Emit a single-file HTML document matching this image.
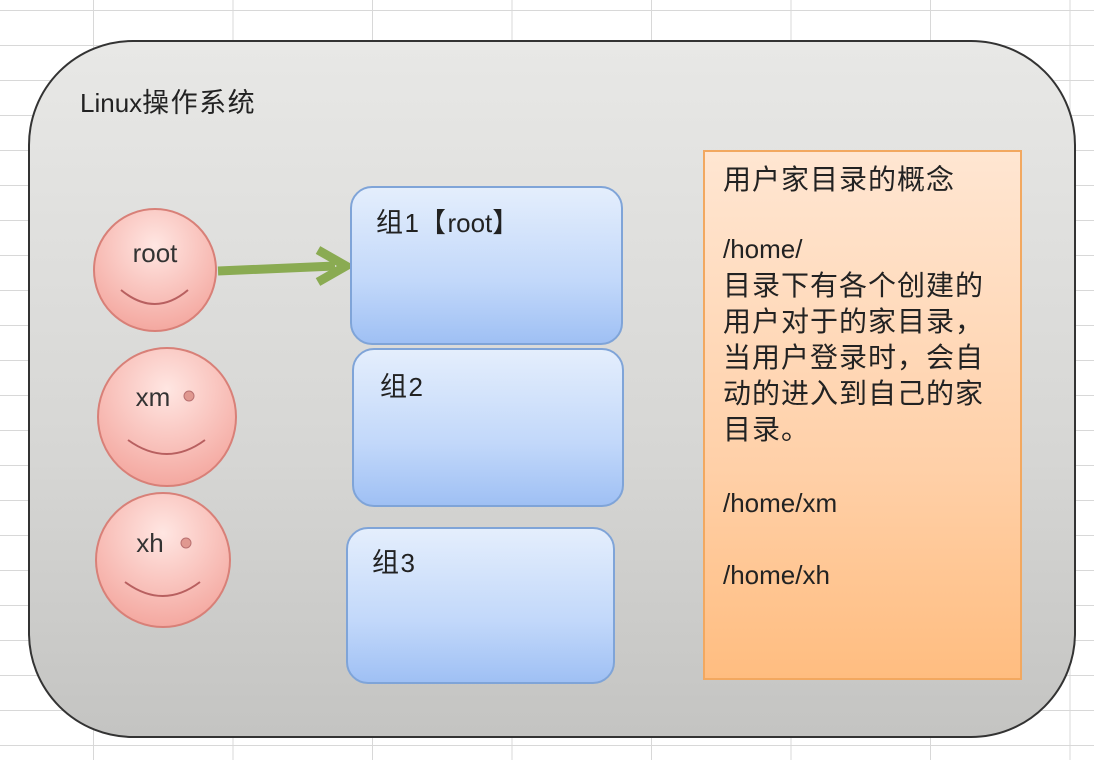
<!DOCTYPE html>
<html><head><meta charset="utf-8"><style>
body{margin:0;width:1094px;height:760px;overflow:hidden;position:relative;font-family:"Liberation Sans","Noto Sans CJK SC",sans-serif;color:#222;
background-color:#fff;
background-image:linear-gradient(to right,#d8d8d8 1px,transparent 1px),linear-gradient(to bottom,#d8d8d8 1px,transparent 1px);
background-size:139.5px 35px;background-position:93px 10px;}
.main{position:absolute;left:28px;top:40px;width:1048px;height:698px;border:2px solid #333;border-radius:105px;box-sizing:border-box;background:linear-gradient(#e8e8e6,#d6d6d4 60%,#c4c4c2);}
.t{position:absolute;font-size:26px;white-space:nowrap;line-height:30px}
.c{font-size:27px;letter-spacing:1.5px}
.blue{position:absolute;border:2px solid #7fa4d8;border-radius:22px;box-sizing:border-box;background:linear-gradient(#e4eefc,#c2d8fa 60%,#9fc0f4);}
.org{position:absolute;left:703px;top:150px;width:319px;height:530px;box-sizing:border-box;border:2px solid #f2a860;background:linear-gradient(#ffe6d2,#ffd0a8 60%,#ffbd80);}
.org div{position:absolute;left:18px;font-size:26px;white-space:nowrap;line-height:30px}
.org div.k{font-size:28px;letter-spacing:1px}
</style></head><body>
<div class="main"></div>
<div class="t" style="left:80px;top:88px">Linux<span class="c">操作系统</span></div>
<svg width="1094" height="760" style="position:absolute;left:0;top:0">
<defs><radialGradient id="r" cx="50%" cy="30%" r="70%"><stop offset="0" stop-color="#ffe6e2"/><stop offset="1" stop-color="#f4a8a0"/></radialGradient></defs>
<circle cx="155" cy="270" r="61" fill="url(#r)" stroke="#d88078" stroke-width="2"/>
<path d="M121 290 Q155 318 188 290" fill="none" stroke="#b86060" stroke-width="2"/>
<circle cx="167" cy="417" r="69" fill="url(#r)" stroke="#d88078" stroke-width="2"/>
<path d="M128 440 Q167 468 205 440" fill="none" stroke="#b86060" stroke-width="2"/>
<circle cx="189" cy="396" r="5" fill="#e09890" stroke="#b87070"/>
<circle cx="163" cy="560" r="67" fill="url(#r)" stroke="#d88078" stroke-width="2"/>
<path d="M125 582 Q163 610 200 582" fill="none" stroke="#b86060" stroke-width="2"/>
<circle cx="186" cy="543" r="5" fill="#e09890" stroke="#b87070"/>
<text x="155" y="262" font-size="26" text-anchor="middle" font-family="Liberation Sans" fill="#333">root</text>
<text x="153" y="406" font-size="26" text-anchor="middle" font-family="Liberation Sans" fill="#333">xm</text>
<text x="150" y="552" font-size="26" text-anchor="middle" font-family="Liberation Sans" fill="#333">xh</text>
<line x1="218" y1="271" x2="335" y2="266" stroke="#8aab52" stroke-width="9"/>
<path d="M318 250 L346 266 L318 282" fill="none" stroke="#8aab52" stroke-width="9" stroke-linejoin="miter"/>
</svg>
<div class="blue" style="left:350px;top:186px;width:273px;height:159px"></div>
<div class="blue" style="left:352px;top:348px;width:272px;height:159px"></div>
<div class="blue" style="left:346px;top:527px;width:269px;height:157px"></div>
<div class="t" style="left:376px;top:208px"><span class="c">组</span>1<span class="c">【</span>root<span class="c">】</span></div>
<div class="t" style="left:380px;top:372px"><span class="c">组</span>2</div>
<div class="t" style="left:372px;top:548px"><span class="c">组</span>3</div>
<div class="org">
<div class="k" style="top:13px">用户家目录的概念</div>
<div style="top:82px">/home/</div>
<div class="k" style="top:119px">目录下有各个创建的</div>
<div class="k" style="top:155px">用户对于的家目录，</div>
<div class="k" style="top:191px">当用户登录时，会自</div>
<div class="k" style="top:227px">动的进入到自己的家</div>
<div class="k" style="top:263px">目录。</div>
<div style="top:336px">/home/xm</div>
<div style="top:408px">/home/xh</div>
</div>
</body></html>
